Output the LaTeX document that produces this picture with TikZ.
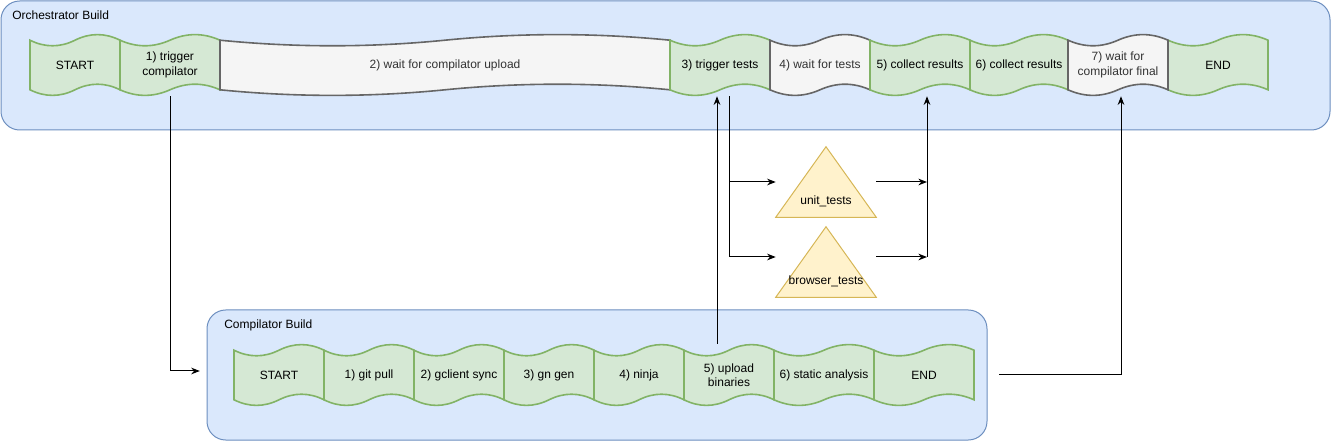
\documentclass[tikz,border=0pt]{standalone}
\usepackage{fontspec}
\setmainfont{Liberation Sans}
\usetikzlibrary{arrows.meta}

\definecolor{buildfill}{HTML}{DAE8FC}
\definecolor{buildline}{HTML}{6C8EBF}
\definecolor{stepfill}{HTML}{D5E8D4}
\definecolor{stepline}{HTML}{82B366}
\definecolor{waitfill}{HTML}{F5F5F5}
\definecolor{waitline}{HTML}{666666}
\definecolor{waittext}{HTML}{333333}
\definecolor{suitefill}{HTML}{FFF2CC}
\definecolor{suiteline}{HTML}{D6B656}

\tikzset{
  buildbox/.style={draw=buildline, fill=buildfill, line width=0.75pt, rounded corners=14pt, inner sep=0pt},
  buildlabel/.style={anchor=west, inner sep=0pt, font=\fontsize{9}{10.8}\selectfont},
  steptape/.style={draw=stepline, fill=stepfill, line width=1.2pt},
  waittape/.style={draw=waitline, fill=waitfill, line width=1.2pt},
  steptext/.style={inner sep=0pt, align=center, font=\fontsize{9}{10.8}\selectfont},
  suitebox/.style={inner sep=0pt, minimum width=75pt, minimum height=52.5pt},
  suite/.style={draw=suiteline, fill=suitefill, line width=0.75pt},
  flow/.style={->, black, line width=0.75pt},
}

% tape shaped step: [text colour]{path style}{name}{left x}{width}{text}
\newcommand{\tapestep}[6][black]{%
  \draw[#2] (#4,{\rowtop+\rowd/2})
    .. controls ({#4+#5/6},{\rowtop+1.1*\rowd}) and ({#4+#5/3},{\rowtop+1.1*\rowd}) .. ({#4+#5/2},{\rowtop+\rowd/2})
    .. controls ({#4+2*#5/3},{\rowtop-0.1*\rowd}) and ({#4+5*#5/6},{\rowtop-0.1*\rowd}) .. ({#4+#5},{\rowtop+\rowd/2})
    -- ({#4+#5},{\rowtop+\rowh-\rowd/2})
    .. controls ({#4+5*#5/6},{\rowtop+\rowh-1.1*\rowd}) and ({#4+2*#5/3},{\rowtop+\rowh-1.1*\rowd}) .. ({#4+#5/2},{\rowtop+\rowh-\rowd/2})
    .. controls ({#4+#5/3},{\rowtop+\rowh+0.1*\rowd}) and ({#4+#5/6},{\rowtop+\rowh+0.1*\rowd}) .. (#4,{\rowtop+\rowh-\rowd/2})
    -- cycle;
  \node[steptext, text=#1, minimum width=#5*0.75pt, minimum height=\rowh*0.75pt] (#3) at ({#4+#5/2},{\rowtop+\rowh/2}) {#6};
}

\begin{document}
\begin{tikzpicture}[x=0.75pt, y=-0.75pt, >={Stealth[length=6.5pt, width=5pt]}]
  \useasboundingbox (0,0) rectangle (1331,441);

  % the two builds
  \node[buildbox, minimum width=996.75pt, minimum height=96.75pt] (orch) at (665.5,65.5) {};
  \node[buildlabel] (orchlbl) at (12,15) {Orchestrator Build};
  \node[buildbox, minimum width=585pt, minimum height=97.5pt] (comp) at (597,375) {};
  \node[buildlabel] (complbl) at (224,325) {Compilator Build};

  % orchestrator steps
  \def\rowtop{34}\def\rowh{62}\pgfmathsetmacro\rowd{0.2*\rowh}
  \tapestep{steptape}{ostart}{30}{90}{START}
  \tapestep{steptape}{trig}{120}{100}{1) trigger\\compilator}
  \tapestep[waittext]{waittape}{waitup}{220}{450}{2) wait for compilator upload}
  \tapestep{steptape}{trt}{670}{100}{3) trigger tests}
  \tapestep[waittext]{waittape}{wft}{770}{100}{4) wait for tests}
  \tapestep{steptape}{col5}{870}{100}{5) collect results}
  \tapestep{steptape}{col6}{970}{98}{6) collect results}
  \tapestep{steptape}{oend}{1168}{100}{END}
  \tapestep[waittext]{waittape}{wcf}{1068}{100}{7) wait for\\compilator final}

  % compilator steps
  \def\rowtop{344}\def\rowh{62}\pgfmathsetmacro\rowd{0.2*\rowh}
  \tapestep{steptape}{cstart}{234}{90}{START}
  \tapestep{steptape}{gitp}{324}{90}{1) git pull}
  \tapestep{steptape}{gcs}{414}{90}{2) gclient sync}
  \tapestep{steptape}{gng}{504}{90}{3) gn gen}
  \tapestep{steptape}{nin}{594}{90}{4) ninja}
  \tapestep{steptape}{upl}{684}{90}{5) upload\\binaries}
  \tapestep{steptape}{sta}{774}{100}{6) static analysis}
  \tapestep{steptape}{cend}{874}{100}{END}

  % test suites
  \node[suitebox] (unit) at (826,182) {};
  \draw[suite] (unit.south west) -- (unit.south east) -- (unit.north) -- cycle;
  \node[steptext] (unitlbl) at ([yshift=12pt]unit.south) {unit\_tests};
  \node[suitebox] (brw) at (826,262) {};
  \draw[suite] (brw.south west) -- (brw.south east) -- (brw.north) -- cycle;
  \node[steptext] (brwlbl) at ([yshift=12pt]brw.south) {browser\_tests};

  % connectors
  \draw[flow] (trig.south) |- ([xshift=-5pt, yshift=3pt]comp.west);
  \draw[flow] ([xshift=-9pt]upl.north) -- ([xshift=-9pt]upl.north |- trt.south);
  \coordinate (brwin) at ([yshift=3.75pt]brw.west);
  \coordinate (brwout) at ([yshift=3.75pt]brw.east);
  \coordinate (merge) at ([xshift=5.25pt]col5.south);
  \draw[flow] ([xshift=6.75pt]trt.south) |- (unit.west);
  \draw[flow] ([xshift=6.75pt]trt.south) |- (brwin);
  \draw[flow] (unit.east) -- (unit.east -| merge);
  \draw[flow] (brwout) -- (brwout -| merge);
  \draw[flow] (brwout -| merge) -- (merge);
  \draw[flow] ([xshift=18.75pt]cend.east) -| ([xshift=2.25pt]wcf.south);
\end{tikzpicture}
\end{document}
